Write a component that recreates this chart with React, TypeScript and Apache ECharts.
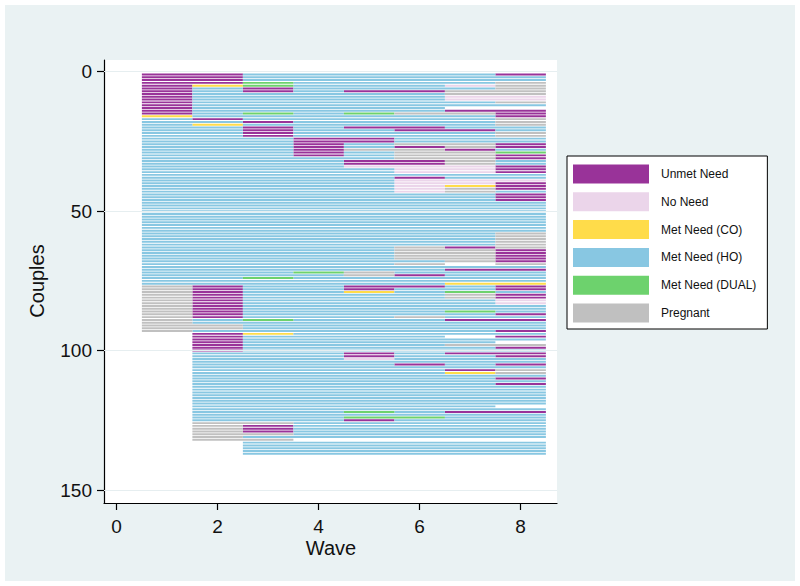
import React, { useEffect, useRef } from "react";
import * as echarts from "echarts";

// State codes: U = Unmet Need, N = No Need, C = Met Need (CO), H = Met Need (HO), D = Met Need (DUAL), P = Pregnant, "." = not observed
const stateCodes = ["U", "N", "C", "H", "D", "P"];
const stateNames = ["Unmet Need", "No Need", "Met Need (CO)", "Met Need (HO)", "Met Need (DUAL)", "Pregnant"];
const stateColors = ["#993399", "#ebd5ea", "#ffdc4a", "#88c7e2", "#6dd26d", "#c0c0c0"];

const waves = [1, 2, 3, 4, 5, 6, 7, 8];
const xTicks = [0, 2, 4, 6, 8];
const yTicks = [0, 50, 100, 150];

// One string per couple (couple 1 first), one character per wave 1..8
const coupleSequences = [
  "UUHHHHHU", "UUHHHHHH", "UUHHHHHH", "UUDHHHHP", "UCDHHHNP", "UHUHHHHP", "UHUHUUPP", "UHHHHHPP",
  "UHHHHHNN", "UHHHHHNN", "UHHHHHHP", "UHHHHHHH", "UHHHHH..", "UHHHHHUU", "UHDHDPPU", "CHHHHHHU",
  "HUHHHHHP", "HHUHHHHP", "HCHHHHHP", "HHUHUUHH", "HHUHHUUH", "HHUHHHHP", "HHUHHHHP", "HHHUUHHH",
  "HHHUUHHH", "HHHUHPPU", "HHHUHUPU", "HHHUPPUH", "HHHUHPPD", "HHHUHPPU", "HHHHHPPU", "HHHHUUPH",
  "HHHHUUPH", "HHHHNNNU", "HHHHHNNU", "HHHHHNNU", "HHHHHHHH", "HHHHHUHH", "HHHHHNNN", "HHHHHNNU",
  "HHHHHNCU", "HHHHHNPU", "HHHHHNPH", "HHHHHHHU", "HHHHHHHU", "HHHHHHHU", "HHHHHHHH", "HHHHHHHH",
  "HHHHHHHH", "HHHHHHHH", "HHHHHHHH", "HHHHHHHH", "HHHHHHHH", "HHHHHHHH", "HHHHHHHH", "HHHHHHHH",
  "HHHHHHHH", "HHHHHHHP", "HHHHHHHP", "HHHHHHHP", "HHHHHHHP", "HHHHHHHP", "HHHHHPUP", "HHHHHPPU",
  "HHHHHPPU", "HHHHHPPU", "HHHHHPPU", "HHHHHHPU", "HHHHHP.P", "HHHHHHHH", "HHHHHHUU", "HHHDPHHH",
  "HHHHPUHH", "HHDHHHHH", "HHHHHHHH", "HHHHHHCC", "PUHHUUHU", "PUHHUHHU", "PUHHCHDH", "PUHHHHPU",
  "PUHHHHPU", "PUHHHHHN", "PUHHHHHN", "PUHHHHHH", "PUHHHHHH", "PUHHHHDH", "PUHHHHHU", "PUHHHPHH",
  "PHDHHHUU", "PHHHHHHH", "PPHHHHHH", "PPHHHHHH", "PHHHHHHU", ".UCHHHHH", ".UHHHH.U", ".UHHHHHH",
  ".UHHHHH.", ".UHHHHPP", ".UHHHHHU", ".UHHHHHH", ".HHHUHUU", ".HHHUHHU", ".HHHNHHH", ".HHHHHHH",
  ".HHHHUHU", ".HHHHHHH", ".HHHHHUP", ".HHHHHCP", ".HHHHHHH", ".HHHHHHU", ".HHHHHHH", ".HHHHHHU",
  ".HHHHHHH", ".HHHHHHH", ".HHHHHHH", ".HHHHHHH", ".HHHHHHH", ".HHHHHHH", ".HHHHHHH", ".HHHHHH.",
  ".HHHHHHH", ".HHHDHUU", ".HHHHHHH", ".HHHDDHH", ".HHHUHHH", ".PPHHHHH", ".PUHHHHH", ".PUHHHHH",
  ".PUHHHHH", ".PPHHHHH", ".PHHHHHH", ".PP.....", "..HHHHHH", "..HHHHHH", "..HHHHHH", "..HHHHHH",
  "..HHHHHH",
];

const FONT = "'Liberation Sans', Arial, Helvetica, sans-serif";

function buildRuns(): number[][][] {
  const runs: number[][][] = stateCodes.map(() => []);
  coupleSequences.forEach((seq, idx) => {
    const couple = idx + 1;
    let i = 0;
    while (i < waves.length) {
      const code = seq[i];
      let j = i;
      while (j + 1 < waves.length && seq[j + 1] === code) j++;
      const k = stateCodes.indexOf(code);
      if (k >= 0) runs[k].push([waves[i] - 0.5, waves[j] + 0.5, couple]);
      i = j + 1;
    }
  });
  return runs;
}

export default function App() {
  const ref = useRef<HTMLDivElement>(null);

  useEffect(() => {
    if (!ref.current) return;
    const chart = echarts.init(ref.current, undefined, { renderer: "svg" });
    const runs = buildRuns();

    const renderItem = (params: any, api: any) => {
      const s = api.coord([api.value(0), api.value(2)]);
      const e = api.coord([api.value(1), api.value(2)]);
      const h = Math.abs(api.size([0, 1])[1]) * 0.7;
      return {
        type: "rect",
        shape: { x: s[0], y: s[1] - h / 2, width: e[0] - s[0], height: h },
        style: { fill: api.visual("color") },
      };
    };

    const seqSeries = stateNames.map((name, k) => ({
      type: "custom",
      name,
      itemStyle: { color: stateColors[k] },
      data: runs[k],
      encode: { x: [0, 1], y: 2 },
      renderItem,
      clip: true,
      z: 3,
    }));

    const option: any = {
      animation: false,
      backgroundColor: "#eaf2f3",
      textStyle: { fontFamily: FONT },
      grid: {
        left: 104,
        right: 243,
        top: 60,
        bottom: 83,
        show: true,
        backgroundColor: "#ffffff",
        borderWidth: 0,
      },
      xAxis: {
        type: "value",
        min: -0.25,
        max: 8.72,
        axisLine: { show: true, onZero: false, lineStyle: { color: "#000", width: 1.2 } },
        axisTick: { show: true, length: 7, customValues: xTicks, lineStyle: { color: "#000", width: 1.2 } },
        axisLabel: {
          customValues: xTicks,
          margin: 14,
          fontSize: 19,
          color: "#111",
          fontFamily: FONT,
        },
        splitLine: { show: false },
      },
      yAxis: {
        type: "value",
        inverse: true,
        min: -4.2,
        max: 154.65,
        axisLine: { show: true, onZero: false, lineStyle: { color: "#000", width: 1.2 } },
        axisTick: { show: true, length: 7, customValues: yTicks, lineStyle: { color: "#000", width: 1.2 } },
        axisLabel: {
          customValues: yTicks,
          margin: 12,
          fontSize: 19,
          color: "#111",
          fontFamily: FONT,
        },
        splitLine: { show: false },
      },
      legend: {
        data: stateNames,
        orient: "vertical",
        left: 567,
        top: 156,
        icon: "rect",
        itemWidth: 76,
        itemHeight: 19,
        itemGap: 8.8,
        padding: [8.5, 11, 6.5, 6],
        borderColor: "#000",
        borderWidth: 1,
        backgroundColor: "#fff",
        selectedMode: false,
        textStyle: { fontSize: 12, color: "#111", fontFamily: FONT, padding: [0, 0, 0, 7] },
      },
      graphic: [
        { type: "rect", shape: { x: 0, y: 0, width: 800, height: 5 }, style: { fill: "#fff" } },
        { type: "rect", shape: { x: 0, y: 581, width: 800, height: 5 }, style: { fill: "#fff" } },
        { type: "rect", shape: { x: 0, y: 0, width: 5, height: 586 }, style: { fill: "#fff" } },
        { type: "rect", shape: { x: 795, y: 0, width: 5, height: 586 }, style: { fill: "#fff" } },
        {
          type: "text",
          x: 37,
          y: 281,
          rotation: Math.PI / 2,
          style: {
            text: "Couples",
            fontSize: 20,
            fontFamily: FONT,
            fill: "#111",
            align: "center",
            verticalAlign: "middle",
          },
        },
        {
          type: "text",
          x: 331,
          y: 548,
          style: {
            text: "Wave",
            fontSize: 20,
            fontFamily: FONT,
            fill: "#111",
            align: "center",
            verticalAlign: "middle",
          },
        },
      ],
      series: [
        {
          type: "line",
          name: "grid",
          data: [],
          silent: true,
          z: 1,
          markLine: {
            silent: true,
            symbol: ["none", "none"],
            label: { show: false },
            lineStyle: { color: "#e6eef0", width: 1, type: "solid" },
            data: yTicks.map((v) => ({ yAxis: v })),
          },
        },
        ...seqSeries,
      ],
    };

    chart.setOption(option);
    return () => chart.dispose();
  }, []);

  return (
    <div
      ref={ref}
      style={{ position: "fixed", left: 0, top: 0, width: 800, height: 586 }}
    />
  );
}
